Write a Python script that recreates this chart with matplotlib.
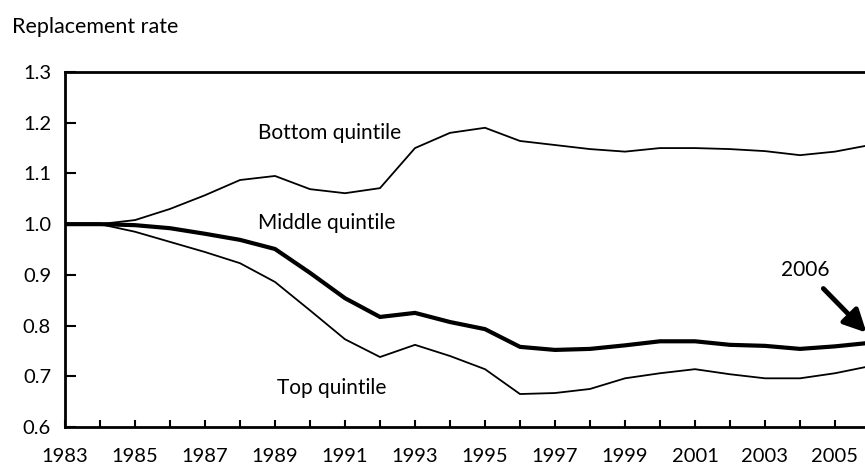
import matplotlib
matplotlib.use("Agg")
import matplotlib.pyplot as plt

years = list(range(1983, 2007))
bottom = [1.000, 1.000, 1.008, 1.030, 1.057, 1.087, 1.095, 1.069, 1.061, 1.071,
          1.150, 1.180, 1.190, 1.164, 1.156, 1.148, 1.143, 1.150, 1.150, 1.148,
          1.144, 1.136, 1.143, 1.156]
middle = [1.000, 1.000, 0.998, 0.992, 0.981, 0.969, 0.951, 0.904, 0.854, 0.817,
          0.825, 0.807, 0.793, 0.758, 0.752, 0.754, 0.761, 0.769, 0.769, 0.762,
          0.760, 0.754, 0.759, 0.766]
top = [1.000, 1.000, 0.985, 0.965, 0.945, 0.923, 0.886, 0.830, 0.773, 0.738,
       0.762, 0.740, 0.714, 0.665, 0.667, 0.675, 0.696, 0.706, 0.714, 0.704,
       0.696, 0.696, 0.706, 0.720]
xtick_labels = [str(y) for y in range(1983, 2006, 2)]
ytick_values = [0.6, 0.7, 0.8, 0.9, 1.0, 1.1, 1.2, 1.3]

plt.rcParams['font.family'] = ['Lato', 'DejaVu Sans']

W, H = 865, 468
fig = plt.figure(figsize=(W / 100, H / 100), dpi=100)
ax = fig.add_axes([65 / W, 41 / H, 805 / W, 355 / H])

ax.plot(years, bottom, color='black', lw=1.3, solid_joinstyle='miter')
ax.plot(years, top, color='black', lw=1.3, solid_joinstyle='miter')
ax.plot(years, middle, color='black', lw=3.0, solid_joinstyle='miter')

ax.set_xlim(1983, 2006)
ax.set_ylim(0.6, 1.3)
ax.set_xticks(years[:-1])
ax.set_xticklabels([str(y) if str(y) in xtick_labels else '' for y in years[:-1]])
ax.set_yticks(ytick_values)
ax.set_yticklabels([f"{v:.1f}" for v in ytick_values])
ax.tick_params(axis='x', direction='in', length=5, width=1.5, labelsize=14.5, pad=15)
ax.tick_params(axis='y', direction='in', length=8, width=1.5, labelsize=14.5, pad=10)
for s in ax.spines.values():
    s.set_linewidth(2)

ax.text(1988.5, 1.18, 'Bottom quintile', fontsize=15, va='center', ha='left')
ax.text(1988.5, 1.002, 'Middle quintile', fontsize=15, va='center', ha='left')
ax.text(1989.06, 0.677, 'Top quintile', fontsize=15, va='center', ha='left')
ax.annotate('2006', xy=(years[-1] - 0.1, middle[-1] + 0.02), xytext=(2003.45, 0.91),
            fontsize=15, va='center', ha='left', annotation_clip=False,
            arrowprops=dict(arrowstyle='-|>,head_length=0.9,head_width=0.45',
                            color='black', lw=3.5, shrinkA=6, shrinkB=0))

fig.text(12 / W, 1 - 27 / H, 'Replacement rate', fontsize=15.5, va='center', ha='left')

fig.savefig('out.png', dpi=100)
